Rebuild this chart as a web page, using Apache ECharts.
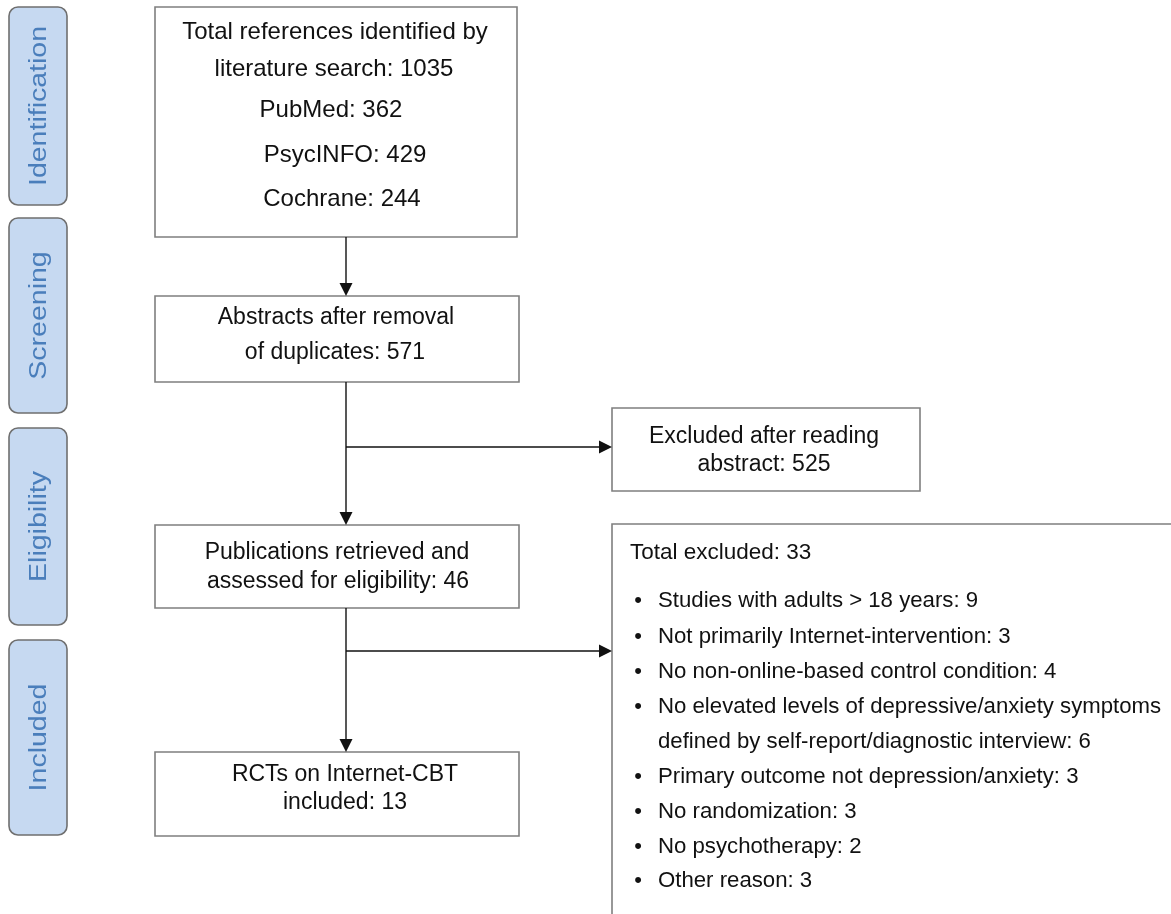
<!DOCTYPE html>
<html>
<head>
<meta charset="utf-8">
<script src="https://cdn.jsdelivr.net/npm/echarts@6/dist/echarts.min.js"></script>
<style>html,body{margin:0;padding:0;background:#fff}#c{width:1171px;height:914px}</style>
</head>
<body>
<div id="c"></div>
<script>
// ---------- data ----------
const stageNames = ['Identification', 'Screening', 'Eligibility', 'Included'];
const stepLabels = [
  ['Total references identified by', 'literature search'],
  ['Abstracts after removal', 'of duplicates'],
  ['Publications retrieved and', 'assessed for eligibility'],
  ['RCTs on Internet-CBT', 'included']
];
const stepCounts = [1035, 571, 46, 13];
const sourceNames = ['PubMed', 'PsycINFO', 'Cochrane'];
const sourceCounts = [362, 429, 244];
const abstractExclusionLabel = ['Excluded after reading', 'abstract'];
const abstractExclusionCount = 525;
const fullTextExclusionLabel = 'Total excluded';
const fullTextExclusionCount = 33;
const reasonLabels = [
  ['Studies with adults > 18 years'],
  ['Not primarily Internet-intervention'],
  ['No non-online-based control condition'],
  ['No elevated levels of depressive/anxiety symptoms', 'defined by self-report/diagnostic interview'],
  ['Primary outcome not depression/anxiety'],
  ['No randomization'],
  ['No psychotherapy'],
  ['Other reason']
];
const reasonCounts = [9, 3, 4, 6, 3, 3, 2, 3];

// ---------- layout (diagram space) ----------
const stageRects = [[9, 7, 67, 205], [9, 218, 67, 413], [9, 428, 67, 625], [9, 640, 67, 835]];
const stepRects = [[155, 7, 517, 237], [155, 296, 519, 382], [155, 525, 519, 608], [155, 752, 519, 836]];
const stepLineX = [[335, 334, 331, 345, 342], [336, 335], [337, 338], [345, 345]];
const stepLineY = [[32, 69, 110, 155, 199], [318, 353], [553, 582], [775, 803]];
const stepFont = [24, 23, 23, 23];
const abstractRect = [612, 408, 920, 491];
const abstractLineX = [764, 764];
const abstractLineY = [437, 465];
const fullTextRect = [612, 524, 1200, 940];
const fullTextTitlePos = [630, 553];
const bulletX = 638, reasonX = 658;
const reasonLineY = [601, 637, 672, 707, 742, 777, 812, 847, 881];
const connectors = [
  [346, 237, 346, 296], [346, 382, 346, 525], [346, 447, 612, 447],
  [346, 608, 346, 752], [346, 651, 612, 651]
];

const FONT = '"Liberation Sans", Arial, Helvetica, sans-serif';
const TEXT = '#111111';

function withCount(lines, count) {
  const out = lines.slice();
  out[out.length - 1] = out[out.length - 1] + ': ' + count;
  return out;
}

// table of boxes built from the data arrays
const boxes = stepLabels.map((lab, i) => {
  let lines = withCount(lab, stepCounts[i]);
  if (i === 0) lines = lines.concat(sourceNames.map((s, k) => s + ': ' + sourceCounts[k]));
  return { rect: stepRects[i], lines: lines, xs: stepLineX[i], ys: stepLineY[i], font: stepFont[i] };
});
boxes.push({ rect: abstractRect, lines: withCount(abstractExclusionLabel, abstractExclusionCount), xs: abstractLineX, ys: abstractLineY, font: 23 });
boxes.push({ rect: fullTextRect, lines: [], xs: [], ys: [], font: 23 });

// reason lines
const reasonRows = [];
let rowIdx = 0;
reasonLabels.forEach((lab, i) => {
  const lines = withCount(lab, reasonCounts[i]);
  lines.forEach((t, k) => {
    reasonRows.push({ text: t, bullet: k === 0, y: reasonLineY[rowIdx] });
    rowIdx++;
  });
});

const chart = echarts.init(document.getElementById('c'), null, { renderer: 'canvas' });

function rectFrom(api, r) {
  const a = api.coord([r[0], r[1]]), b = api.coord([r[2], r[3]]);
  return { x: a[0], y: a[1], width: b[0] - a[0], height: b[1] - a[1] };
}

const option = {
  animation: false,
  grid: { left: 0, right: 0, top: 0, bottom: 0 },
  xAxis: { type: 'value', min: 0, max: 1171, show: false },
  yAxis: { type: 'value', min: 0, max: 914, inverse: true, show: false },
  series: [
    {
      name: 'stages', type: 'custom', clip: false, silent: true,
      data: stageNames.map((n, i) => ({ name: n, value: [i] })),
      renderItem: function (params, api) {
        const i = params.dataIndex;
        const r = rectFrom(api, stageRects[i]);
        return {
          type: 'group', children: [
            { type: 'rect', shape: { x: r.x, y: r.y, width: r.width, height: r.height, r: 9 },
              style: { fill: '#c6d9f1', stroke: '#6f6f6f', lineWidth: 1.6 } },
            { type: 'text', x: r.x + r.width / 2 + 1, y: r.y + r.height / 2, rotation: Math.PI / 2, scaleY: 0.86,
              style: { text: stageNames[i], fontSize: 28.5, fontFamily: FONT, fill: '#4a7ebb', align: 'center', verticalAlign: 'middle' } }
          ]
        };
      }
    },
    {
      name: 'boxes', type: 'custom', clip: false, silent: true,
      data: boxes.map((b, i) => [i]),
      renderItem: function (params, api) {
        const b = boxes[params.dataIndex];
        const r = rectFrom(api, b.rect);
        const children = [
          { type: 'rect', shape: { x: r.x, y: r.y, width: r.width, height: r.height },
            style: { fill: '#fff', stroke: '#7f7f7f', lineWidth: 1.6 } }
        ];
        b.lines.forEach((t, k) => {
          const p = api.coord([b.xs[k], b.ys[k]]);
          children.push({ type: 'text', x: p[0], y: p[1],
            style: { text: t, fontSize: b.font, fontFamily: FONT, fill: TEXT, align: 'center', verticalAlign: 'middle' } });
        });
        return { type: 'group', children: children };
      }
    },
    {
      name: 'connectors', type: 'custom', clip: false, silent: true,
      data: connectors.map((c, i) => [i]),
      renderItem: function (params, api) {
        const c = connectors[params.dataIndex];
        const a = api.coord([c[0], c[1]]), b = api.coord([c[2], c[3]]);
        const dx = b[0] - a[0], dy = b[1] - a[1], L = Math.hypot(dx, dy);
        const ux = dx / L, uy = dy / L, hl = 13, hw = 6.5;
        const base = [b[0] - ux * hl, b[1] - uy * hl];
        return {
          type: 'group', children: [
            { type: 'line', shape: { x1: a[0], y1: a[1], x2: base[0], y2: base[1] }, style: { stroke: '#111', lineWidth: 1.4 } },
            { type: 'polygon', shape: { points: [b, [base[0] - uy * hw, base[1] + ux * hw], [base[0] + uy * hw, base[1] - ux * hw]] },
              style: { fill: '#111' } }
          ]
        };
      }
    },
    {
      name: 'exclusions', type: 'custom', clip: false, silent: true,
      data: [[0]].concat(reasonRows.map((r, i) => [i + 1])),
      renderItem: function (params, api) {
        const i = params.dataIndex;
        if (i === 0) {
          const p = api.coord(fullTextTitlePos);
          return { type: 'text', x: p[0], y: p[1],
            style: { text: fullTextExclusionLabel + ': ' + fullTextExclusionCount, fontSize: 22.5, fontFamily: FONT, fill: TEXT, align: 'left', verticalAlign: 'middle' } };
        }
        const row = reasonRows[i - 1];
        const p = api.coord([reasonX, row.y]);
        const q = api.coord([bulletX, row.y]);
        const children = [
          { type: 'text', x: p[0], y: p[1],
            style: { text: row.text, fontSize: 22.2, fontFamily: FONT, fill: TEXT, align: 'left', verticalAlign: 'middle' } }
        ];
        if (row.bullet) {
          children.push({ type: 'text', x: q[0], y: q[1],
            style: { text: '\u2022', fontSize: 22, fontFamily: FONT, fill: TEXT, align: 'center', verticalAlign: 'middle' } });
        }
        return { type: 'group', children: children };
      }
    }
  ]
};
chart.setOption(option);
</script>
</body>
</html>
